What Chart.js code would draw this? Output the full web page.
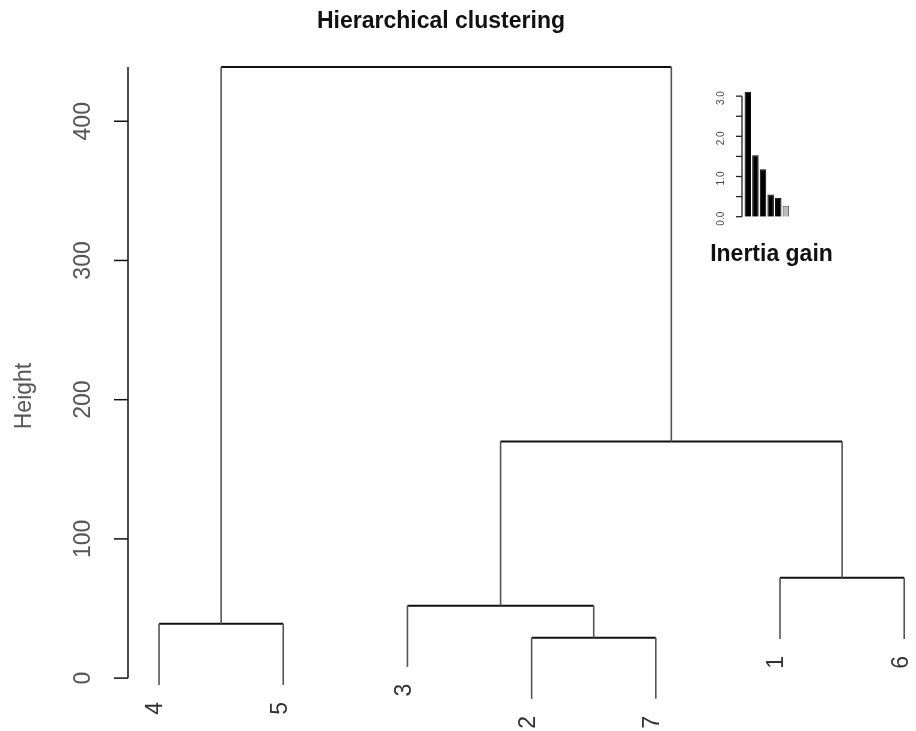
<!DOCTYPE html>
<html>
<head>
<meta charset="utf-8">
<script src="https://cdn.jsdelivr.net/npm/chart.js@4.4.1/dist/chart.umd.min.js"></script>
<style>
  html, body { margin: 0; padding: 0; background: #fff; }
  #wrap { position: relative; width: 916px; height: 731px; overflow: hidden; }
  #main { position: absolute; left: 0; top: 0; }
  #inset { position: absolute; left: 700px; top: 70px; }
</style>
</head>
<body>
<div id="wrap">
  <canvas id="main" width="916" height="731"></canvas>
  <canvas id="inset" width="160" height="200"></canvas>
</div>
<script>
// --- dendrogram data (R hclust style: negative = leaf label, positive = earlier merge) ---
const leafOrder = ['4', '5', '3', '2', '7', '1', '6'];
const mergeLeft = [-2, -4, -3, -1, 3, 2];
const mergeRight = [-7, -5, 1, -6, 4, 5];
const mergeHeight = [29, 39, 52, 72, 170, 439];
const heightTicks = [0, 100, 200, 300, 400];

// --- inertia gain inset ---
const gainLabels = ['1', '2', '3', '4', '5', '6'];
const gainValues = [3.11, 1.53, 1.18, 0.55, 0.47, 0.27];
const gainTicks = [0, 0.5, 1, 1.5, 2, 2.5, 3];
const gainTickLabels = ['0.0', '', '1.0', '', '2.0', '', '3.0'];

const FONT = '"Liberation Sans", Arial, sans-serif';
const hang = 0.1 * Math.max(...mergeHeight);

function nodeX(id) {
    if (id < 0) return leafOrder.indexOf(String(-id)) + 1;
    return (nodeX(mergeLeft[id - 1]) + nodeX(mergeRight[id - 1])) / 2;
}

const vertSegs = [], horzSegs = [], leafEnds = [];
mergeHeight.forEach((h, i) => {
    [mergeLeft[i], mergeRight[i]].forEach(c => {
        const xc = nodeX(c);
        const yb = c < 0 ? h - hang : mergeHeight[c - 1];
        vertSegs.push([{x: xc, y: yb}, {x: xc, y: h}]);
        if (c < 0) leafEnds.push({label: String(-c), x: xc, y: yb});
    });
    horzSegs.push([{x: nodeX(mergeLeft[i]), y: h}, {x: nodeX(mergeRight[i]), y: h}]);
});

const datasets = [];
vertSegs.forEach(s => datasets.push({data: s, borderColor: '#555', borderWidth: 1.6}));
horzSegs.forEach(s => datasets.push({data: s, borderColor: '#111', borderWidth: 2}));

const dendroDecor = {
    id: 'dendroDecor',
    afterDraw(chart) {
        const ctx = chart.ctx, xs = chart.scales.x, ys = chart.scales.y;
        const axX = chart.chartArea.left;
        ctx.save();
        // title
        ctx.fillStyle = '#111';
        ctx.font = 'bold 23px ' + FONT;
        ctx.textAlign = 'center';
        ctx.textBaseline = 'middle';
        ctx.fillText('Hierarchical clustering', 441, 22);
        // y axis
        ctx.strokeStyle = '#111';
        ctx.lineWidth = 1.5;
        ctx.beginPath();
        ctx.moveTo(axX, ys.getPixelForValue(0));
        ctx.lineTo(axX, ys.getPixelForValue(Math.max(...mergeHeight)));
        ctx.stroke();
        ctx.font = '23px ' + FONT;
        ctx.fillStyle = '#555';
        heightTicks.forEach(t => {
            const py = ys.getPixelForValue(t);
            ctx.beginPath();
            ctx.moveTo(axX - 14, py);
            ctx.lineTo(axX, py);
            ctx.stroke();
            ctx.save();
            ctx.translate(84, py);
            ctx.rotate(-Math.PI / 2);
            ctx.textAlign = 'center';
            ctx.textBaseline = 'middle';
            ctx.fillText(String(t), 0, 0);
            ctx.restore();
        });
        // axis title
        ctx.save();
        ctx.translate(25, 396);
        ctx.rotate(-Math.PI / 2);
        ctx.textAlign = 'center';
        ctx.textBaseline = 'middle';
        ctx.fillText('Height', 0, 0);
        ctx.restore();
        // leaf labels
        ctx.fillStyle = '#333';
        leafEnds.forEach(l => {
            ctx.save();
            ctx.translate(xs.getPixelForValue(l.x) - 3, ys.getPixelForValue(l.y) + 17);
            ctx.rotate(-Math.PI / 2);
            ctx.textAlign = 'right';
            ctx.textBaseline = 'middle';
            ctx.fillText(l.label, 0, 0);
            ctx.restore();
        });
        ctx.restore();
    }
};

new Chart(document.getElementById('main'), {
    type: 'scatter',
    data: {datasets: datasets},
    options: {
        responsive: false,
        animation: false,
        showLine: true,
        elements: {point: {radius: 0, hoverRadius: 0}, line: {tension: 0}},
        layout: {padding: {left: 128, right: 0, top: 60, bottom: 0}},
        scales: {
            x: {type: 'linear', min: 0.75, max: 7.095, display: false},
            y: {type: 'linear', min: -38, max: 444, display: false}
        },
        plugins: {legend: {display: false}, tooltip: {enabled: false}}
    },
    plugins: [dendroDecor]
});

const insetDecor = {
    id: 'insetDecor',
    afterDraw(chart) {
        const ctx = chart.ctx, ys = chart.scales.y;
        const axX = chart.chartArea.left - 2;
        ctx.save();
        ctx.strokeStyle = '#222';
        ctx.lineWidth = 1.3;
        ctx.beginPath();
        ctx.moveTo(axX, ys.getPixelForValue(0));
        ctx.lineTo(axX, ys.getPixelForValue(3));
        ctx.stroke();
        ctx.fillStyle = '#444';
        ctx.font = '10px ' + FONT;
        gainTicks.forEach((t, i) => {
            const py = ys.getPixelForValue(t);
            ctx.beginPath();
            ctx.moveTo(axX - 6, py);
            ctx.lineTo(axX, py);
            ctx.stroke();
            if (gainTickLabels[i]) {
                ctx.save();
                ctx.translate(21, py + 2);
                ctx.rotate(-Math.PI / 2);
                ctx.textAlign = 'center';
                ctx.textBaseline = 'middle';
                ctx.fillText(gainTickLabels[i], 0, 0);
                ctx.restore();
            }
        });
        ctx.fillStyle = '#111';
        ctx.font = 'bold 23px ' + FONT;
        ctx.textAlign = 'center';
        ctx.textBaseline = 'middle';
        ctx.fillText('Inertia gain', 71.5, 185);
        ctx.restore();
    }
};

new Chart(document.getElementById('inset'), {
    type: 'bar',
    data: {
        labels: gainLabels,
        datasets: [{
            data: gainValues,
            backgroundColor: gainValues.map((v, i) => i === gainValues.length - 1 ? '#bbb' : '#000'),
            borderColor: gainValues.map((v, i) => i === gainValues.length - 1 ? '#555' : '#000'),
            borderWidth: 1,
            categoryPercentage: 1,
            barPercentage: 0.85
        }]
    },
    options: {
        responsive: false,
        animation: false,
        layout: {padding: {left: 44, right: 70.3, top: 18.1, bottom: 53.3}},
        scales: {
            x: {display: false},
            y: {min: 0, max: 3.2, display: false}
        },
        plugins: {legend: {display: false}, tooltip: {enabled: false}}
    },
    plugins: [insetDecor]
});
</script>
</body>
</html>
